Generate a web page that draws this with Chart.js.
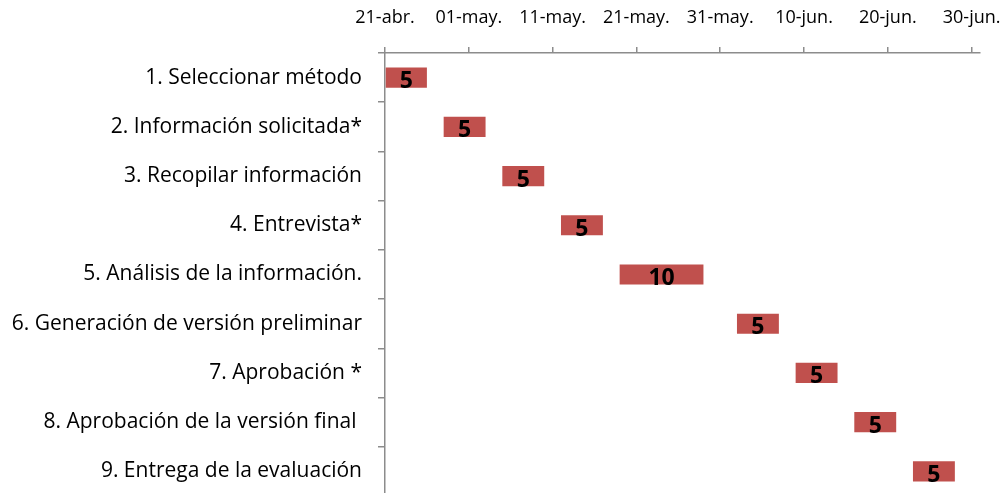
<!DOCTYPE html>
<html>
<head>
<meta charset="utf-8">
<script src="https://cdn.jsdelivr.net/npm/chart.js@4/dist/chart.umd.min.js"></script>
<style>
html, body { margin: 0; padding: 0; background: #fff; overflow: hidden; }
#wrap { width: 1006px; height: 493px; overflow: hidden; }
</style>
</head>
<body>
<div id="wrap"><canvas id="c" width="1006" height="500"></canvas></div>
<script>
const tasks = [
    '1. Seleccionar método',
    '2. Información solicitada*',
    '3. Recopilar información',
    '4. Entrevista*',
    '5. Análisis de la información.',
    '6. Generación de versión preliminar',
    '7. Aprobación *',
    '8. Aprobación de la versión final ',
    '9. Entrega de la evaluación'
];
// start of each task, in days after 21-abr.
const startDays = [0, 7, 14, 21, 28, 42, 49, 56, 63];
const durations = [5, 5, 5, 5, 10, 5, 5, 5, 5];
const tickDays = [0, 10, 20, 30, 40, 50, 60, 70];
const tickLabels = ['21-abr.', '01-may.', '11-may.', '21-may.', '31-may.', '10-jun.', '20-jun.', '30-jun.'];
const lastDay = 71;

const axisColor = '#8c8c8c';

const barLabels = {
    id: 'barLabels',
    afterDatasetsDraw(chart) {
        const ctx = chart.ctx;
        const meta = chart.getDatasetMeta(0);
        ctx.save();
        ctx.font = 'bold 23px "Open Sans"';
        ctx.fillStyle = '#000';
        ctx.textAlign = 'center';
        ctx.textBaseline = 'alphabetic';
        meta.data.forEach((bar, i) => {
            ctx.fillText(String(durations[i]), (bar.x + bar.base) / 2, bar.y + 10.5);
        });
        ctx.restore();
    }
};

new Chart(document.querySelector('#c'), {
    type: 'bar',
    data: {
        labels: tasks,
        datasets: [{
            data: startDays.map((s, i) => [s, s + durations[i]]),
            backgroundColor: '#c0504d',
            borderWidth: 0,
            borderSkipped: false,
            barPercentage: 0.41,
            categoryPercentage: 1
        }]
    },
    options: {
        indexAxis: 'y',
        responsive: false,
        animation: false,
        layout: { padding: { left: 0, right: 26, top: 0, bottom: 4 } },
        plugins: {
            legend: { display: false },
            tooltip: { enabled: false }
        },
        scales: {
            x: {
                type: 'linear',
                position: 'top',
                min: 0,
                max: lastDay,
                afterBuildTicks: s => { s.ticks = tickDays.map(v => ({ value: v })); },
                afterFit: s => {
                    s.height = 53;
                    s.paddingLeft = 0;
                    s.paddingRight = 0;
                },
                grid: { drawOnChartArea: false, tickLength: 6, color: axisColor, lineWidth: 1.5 },
                border: { color: axisColor, width: 1.5 },
                ticks: {
                    padding: 18,
                    color: '#000',
                    font: { family: 'Open Sans', size: 18 },
                    maxRotation: 0,
                    autoSkip: false,
                    callback: v => tickLabels[tickDays.indexOf(v)]
                }
            },
            y: {
                afterFit: s => {
                    s.width = 385;
                    s.paddingTop = 0;
                    s.paddingBottom = 0;
                },
                grid: { offset: true, drawOnChartArea: false, tickLength: 7, color: axisColor, lineWidth: 1.5 },
                border: { color: axisColor, width: 1.5 },
                ticks: {
                    padding: 16,
                    color: '#000',
                    font: { family: 'Open Sans', size: 21 },
                    autoSkip: false
                }
            }
        }
    },
    plugins: [barLabels]
});
</script>
</body>
</html>
